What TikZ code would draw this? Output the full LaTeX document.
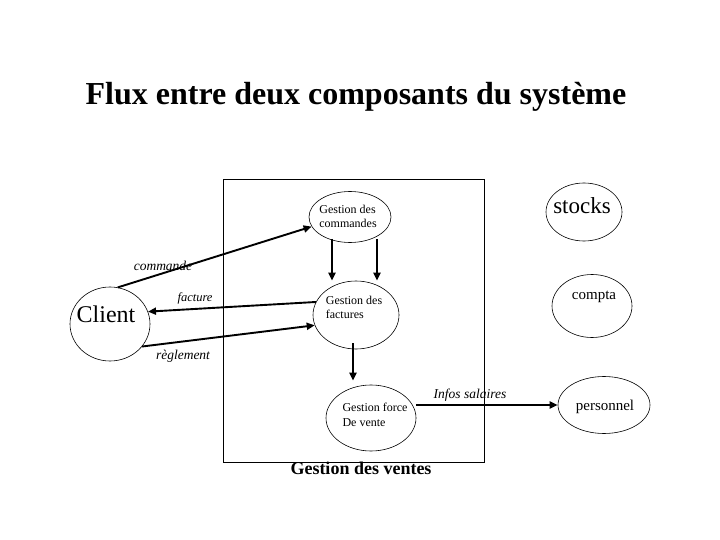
\documentclass[tikz,border=0pt]{standalone}
\usepackage{fontspec}
\setmainfont{Liberation Serif}
\usetikzlibrary{shapes.geometric,arrows.meta}
\begin{document}
\begin{tikzpicture}[x=1pt,y=-1pt,
  proc/.style={draw,ellipse,line width=0.6pt,inner sep=0pt},
  txt/.style={inner sep=0pt,align=left},
  flow/.style={line width=1.9pt,-{Triangle[length=8pt,width=7pt]}},
  lab/.style={font=\fontsize{13.5}{15}\selectfont\itshape,inner sep=0pt}]
\useasboundingbox (0,0) rectangle (720,540);
\fill[white] (0,0) rectangle (720,540);
\node[font=\fontsize{32}{36}\selectfont\bfseries] (title) at (356,97) {Flux entre deux composants du système};
\node[draw,line width=0.7pt,minimum width=261pt,minimum height=283pt,inner sep=0pt] (box) at (353.5,320.5) {};
\node[font=\fontsize{18}{20}\selectfont\bfseries,inner sep=0pt] (boxlab) at (361,468) {Gestion des ventes};
% ellipses
\node[proc,minimum width=80pt,minimum height=74pt] (client) at (110,324) {};
\node[proc,minimum width=82pt,minimum height=51pt] (cmd) at (350,217) {};
\node[proc,minimum width=86pt,minimum height=68pt] (fac) at (356,315) {};
\node[proc,minimum width=90pt,minimum height=66pt] (force) at (371,418) {};
\node[proc,minimum width=76pt,minimum height=58pt] (stocks) at (584,212) {};
\node[proc,minimum width=80pt,minimum height=63pt] (compta) at (592,306) {};
\node[proc,minimum width=92pt,minimum height=57pt] (pers) at (604,405) {};
% texts
\node[txt,font=\fontsize{24}{26}\selectfont] (clientT) at (106,314) {Client};
\node[txt,font=\fontsize{12}{14}\selectfont] (cmdT) at (348,216) {Gestion des\\commandes};
\node[txt,font=\fontsize{12}{14}\selectfont] (facT) at (354,307) {Gestion des\\factures};
\node[txt,font=\fontsize{12}{15}\selectfont] (forceT) at (375,415) {Gestion force\\De vente};
\node[txt,font=\fontsize{23}{25}\selectfont] (stocksT) at (582,206) {stocks};
\node[txt,font=\fontsize{15}{17}\selectfont] (comptaT) at (594,297) {compta};
\node[txt,font=\fontsize{15}{17}\selectfont] (persT) at (605,407) {personnel};
% flows
\draw[flow] (client.78) -- (cmd.194);
\node[lab] (lcmd) at (163,266) {commande};
\draw[flow] (fac.162) -- (client.18);
\node[lab,font=\fontsize{12.5}{14}\selectfont\itshape] (lfac) at (195,298) {facture};
\draw[flow] (client.-35) -- (fac.194);
\node[lab] (lreg) at (183,356) {règlement};
\draw[flow] ([xshift=-18pt,yshift=4pt]cmd.south) -- ([xshift=-24pt]fac.north);
\draw[flow] ([xshift=27pt,yshift=4pt]cmd.south) -- ([xshift=21pt]fac.north);
\draw[flow] ([xshift=-3pt,yshift=6pt]fac.south) -- ([xshift=-18pt,yshift=4pt]force.north);
\draw[flow] (force.east |- pers.west) -- (pers.west);
\node[lab] (linf) at (470,395) {Infos salaires};
\end{tikzpicture}
\end{document}
